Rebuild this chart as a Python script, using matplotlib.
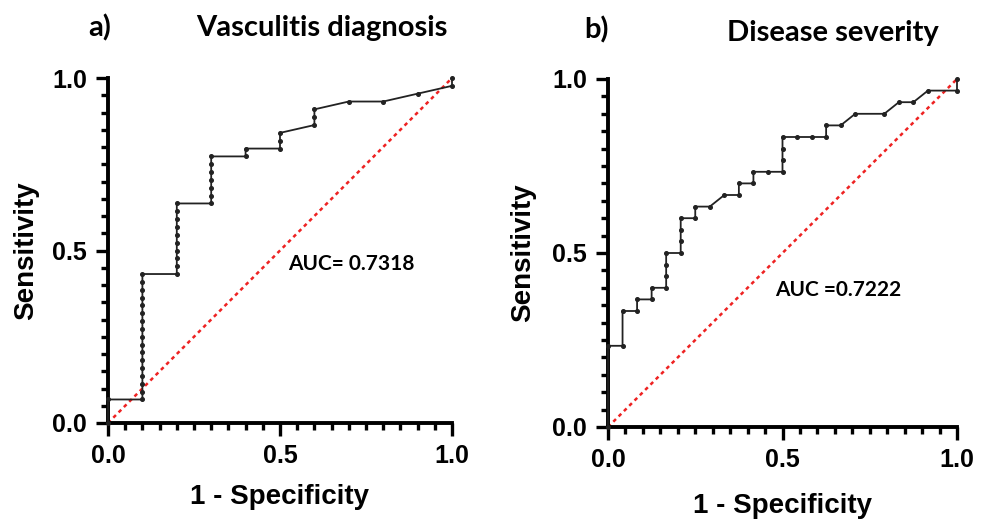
import matplotlib
matplotlib.use("Agg")
import matplotlib.pyplot as plt
import numpy as np
from matplotlib.ticker import MultipleLocator

# ---- data ----
# Panel a: Vasculitis diagnosis (10 negatives, 44 positives)
fpr_a = [0.0, 0.0,
         0.1, 0.1, 0.1, 0.1, 0.1, 0.1, 0.1, 0.1, 0.1, 0.1, 0.1, 0.1, 0.1, 0.1, 0.1, 0.1, 0.1,
         0.2, 0.2, 0.2, 0.2, 0.2, 0.2, 0.2, 0.2, 0.2, 0.2,
         0.3, 0.3, 0.3, 0.3, 0.3, 0.3, 0.3,
         0.4, 0.4,
         0.5, 0.5, 0.5,
         0.6, 0.6, 0.6,
         0.7, 0.8, 0.9, 1.0, 1.0]
tpr_a_counts = [0, 3,
                3, 4, 5, 6, 7, 8, 9, 10, 11, 12, 13, 14, 15, 16, 17, 18, 19,
                19, 20, 21, 22, 23, 24, 25, 26, 27, 28,
                28, 29, 30, 31, 32, 33, 34,
                34, 35,
                35, 36, 37,
                38, 39, 40,
                41, 41, 42, 43, 44]
n_pos_a = 44
auc_a = "AUC= 0.7318"
title_a = "Vasculitis diagnosis"

# Panel b: Disease severity (24 negatives, 30 positives)
fpr_b_counts = [0, 0, 1, 1, 2, 2, 3, 3, 4, 4, 4, 4, 5, 5, 5, 5, 6, 6, 7, 8, 9, 9,
                10, 10, 11, 12, 12, 12, 12, 13, 14, 15, 15, 16, 17, 19, 20, 21, 22, 24, 24]
tpr_b_counts = [0, 7, 7, 10, 10, 11, 11, 12, 12, 13, 14, 15, 15, 16, 17, 18, 18, 19, 19, 20, 20, 21,
                21, 22, 22, 22, 23, 24, 25, 25, 25, 25, 26, 26, 27, 27, 28, 28, 29, 29, 30]
n_neg_b = 24
n_pos_b = 30
auc_b = "AUC =0.7222"
title_b = "Disease severity"

ticks = [0.0, 0.5, 1.0]
tick_labels = ["0.0", "0.5", "1.0"]
xlabel = "1 - Specificity"
ylabel = "Sensitivity"

fig = plt.figure(figsize=(9.84, 5.19), dpi=100)
W, H = 984, 519

def px_axes(x0, x1, ytop, ybot):
    return fig.add_axes([x0 / W, (H - ybot) / H, (x1 - x0) / W, (ybot - ytop) / H])

tick_font = dict(family=["Liberation Sans", "DejaVu Sans"], weight="bold", size=18)
lab_font = dict(family=["Liberation Sans", "DejaVu Sans"], weight="bold", size=20)
title_font = dict(family=["Lato", "DejaVu Sans"], weight="bold", size=21)

def style(ax, xlab_y):
    ax.set_xlim(0, 1)
    ax.set_ylim(0, 1)
    for s in ["top", "right"]:
        ax.spines[s].set_visible(False)
    for s in ["left", "bottom"]:
        ax.spines[s].set_linewidth(2.8)
        ax.spines[s].set_capstyle("projecting")
    ax.xaxis.set_major_locator(MultipleLocator(0.5))
    ax.yaxis.set_major_locator(MultipleLocator(0.5))
    ax.xaxis.set_minor_locator(MultipleLocator(0.05))
    ax.yaxis.set_minor_locator(MultipleLocator(0.05))
    ax.set_xticks(ticks)
    ax.set_xticklabels(tick_labels, fontdict=tick_font)
    ax.set_yticks(ticks)
    ax.set_yticklabels(tick_labels, fontdict=tick_font)
    ax.tick_params(which="major", length=9, width=2.4, direction="out", pad=6, colors="black")
    ax.tick_params(which="minor", length=5, width=2.4, direction="out")
    ax.set_xlabel(xlabel, fontdict=lab_font)
    ax.set_ylabel(ylabel, fontdict=lab_font)
    ax.xaxis.set_label_coords(0.5, xlab_y)
    ax.xaxis.label.set_va("center")
    ax.yaxis.label.set_va("center")
    ax.patch.set_alpha(0)

# Panel a
axa = px_axes(108, 452, 78, 423)
axa.plot([0, 1], [0, 1], color="#ee2222", lw=1.8, ls=(0, (1.5, 1.5)), zorder=2)
axa.plot(fpr_a, np.array(tpr_a_counts) / n_pos_a, color="#222222", lw=1.3,
         marker="o", ms=2.6, mfc="#222222", mec="#222222", zorder=3, clip_on=False)
style(axa, -0.215)
axa.yaxis.set_label_coords(-0.238, 0.5)
axa.text(0.525, 0.46, auc_a, transform=axa.transAxes, ha="left", va="center",
         family=["Lato", "DejaVu Sans"], weight="bold", size=15)

# Panel b
axb = px_axes(608, 957, 79, 427)
axb.plot([0, 1], [0, 1], color="#ee2222", lw=1.8, ls=(0, (1.5, 1.5)), zorder=2)
axb.plot(np.array(fpr_b_counts) / n_neg_b, np.array(tpr_b_counts) / n_pos_b,
         color="#222222", lw=1.3, marker="o", ms=2.6, mfc="#222222", mec="#222222",
         zorder=3, clip_on=False)
style(axb, -0.228)
axb.yaxis.set_label_coords(-0.243, 0.5)
axb.text(0.479, 0.395, auc_b, transform=axb.transAxes, ha="left", va="center",
         family=["Lato", "DejaVu Sans"], weight="bold", size=15)

# titles and panel letters
fig.text(322 / W, 1 - 28 / H, title_a, ha="center", va="center", **title_font)
fig.text(100 / W, 1 - 28 / H, "a)", ha="center", va="center", **title_font)
fig.text(833 / W, 1 - 33 / H, title_b, ha="center", va="center", **title_font)
fig.text(597 / W, 1 - 30 / H, "b)", ha="center", va="center", **title_font)

fig.savefig("out.png", dpi=100, facecolor="white")
